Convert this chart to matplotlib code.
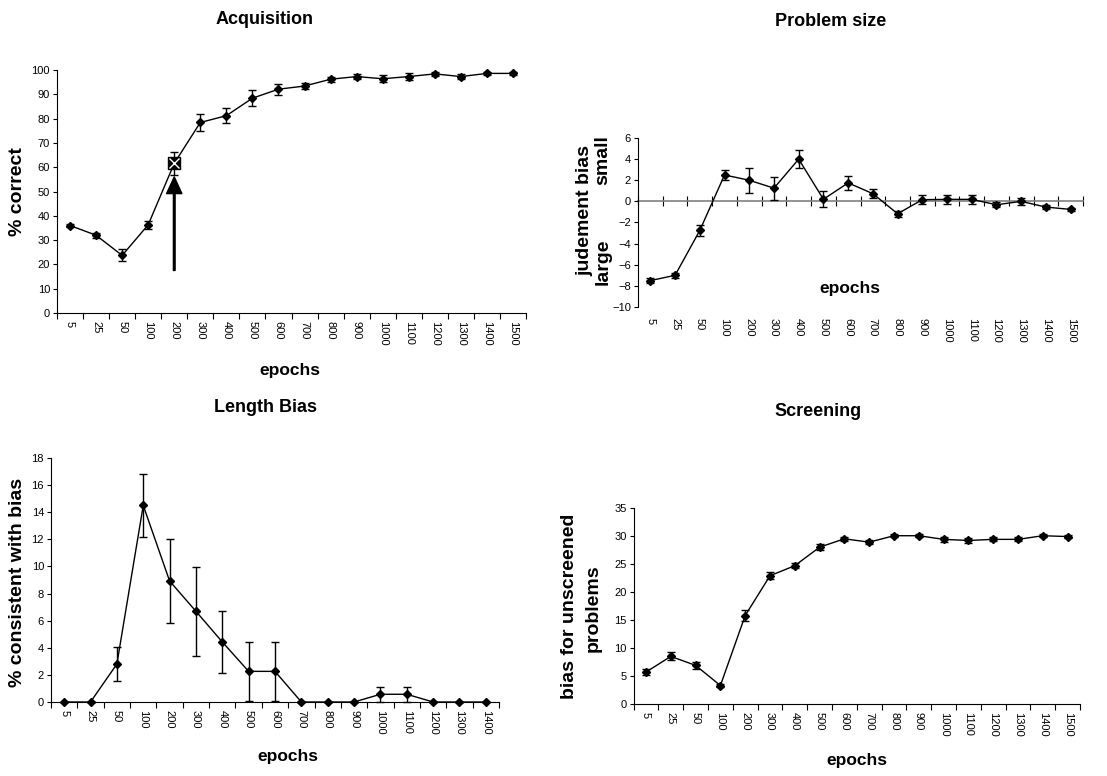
import numpy as np
import matplotlib.pyplot as plt
from matplotlib import font_manager

plt.rcParams['font.family'] = ['Liberation Sans', 'DejaVu Sans']

epochs = ['5', '25', '50', '100', '200', '300', '400', '500', '600', '700',
          '800', '900', '1000', '1100', '1200', '1300', '1400', '1500']
epochs_len = epochs[:17]

acq = [36, 32, 23.7, 36.3, 61.6, 78.4, 81.2, 88.4, 92.1, 93.4,
       96.2, 97.3, 96.4, 97.3, 98.4, 97.3, 98.6, 98.6]
acq_err = [0.8, 1.0, 2.5, 1.7, 4.7, 3.5, 3.0, 3.2, 2.3, 1.2,
           1.0, 1.0, 1.5, 1.5, 0.8, 1.2, 0.7, 0.6]
acq_mark = '200'
arrow_from, arrow_to = 17.5, 56

size_bias = [-7.5, -7.0, -2.75, 2.5, 2.0, 1.25, 4.0, 0.2, 1.75, 0.73,
             -1.17, 0.16, 0.19, 0.19, -0.32, 0.0, -0.54, -0.76]
size_err = [0.2, 0.25, 0.5, 0.5, 1.2, 1.1, 0.85, 0.75, 0.65, 0.4,
            0.3, 0.4, 0.4, 0.45, 0.25, 0.3, 0.15, 0.15]

length_bias = [0, 0, 2.8, 14.5, 8.93, 6.69, 4.43, 2.26, 2.26, 0,
               0, 0, 0.57, 0.57, 0, 0, 0]
length_err = [0, 0, 1.25, 2.35, 3.1, 3.3, 2.3, 2.2, 2.2, 0,
              0, 0, 0.57, 0.57, 0, 0, 0]

screen = [5.7, 8.5, 6.9, 3.3, 15.8, 22.9, 24.7, 28.0, 29.5, 28.9,
          30.05, 30.05, 29.4, 29.2, 29.4, 29.4, 30.05, 29.9]
screen_err = [0.6, 0.7, 0.6, 0.3, 0.9, 0.6, 0.5, 0.5, 0.35, 0.4,
              0.3, 0.3, 0.45, 0.45, 0.35, 0.35, 0.3, 0.3]

# narrow bold face for titles if the system has it
names = {f.name for f in font_manager.fontManager.ttflist}
if 'Liberation Sans Narrow' in names:
    title_font, title_size, ep_size = 'Liberation Sans Narrow', 16, 15
else:
    title_font, title_size, ep_size = 'Liberation Sans', 13, 12.5

W, H = 1107, 776
fig = plt.figure(figsize=(W / 100, H / 100), dpi=100)


def px_axes(l, t, r, b):
    return fig.add_axes([l / W, 1 - b / H, (r - l) / W, (b - t) / H])


def base(ax, labels, values, errs, ylim, ystep):
    x = np.arange(len(labels))
    ax.errorbar(x, values, yerr=errs, color='black', lw=1, marker='D', ms=4.5,
                capsize=3, elinewidth=1, capthick=1, clip_on=False, zorder=3)
    ax.set_xlim(-0.5, len(labels) - 0.5)
    ax.set_ylim(*ylim)
    ax.set_yticks(np.arange(ylim[0], ylim[1] + 0.1, ystep))
    ax.tick_params(axis='y', labelsize=8, length=3, width=0.8, pad=2)
    ax.set_xticks(np.arange(len(labels) + 1) - 0.5)
    ax.set_xticklabels([])
    ax.set_xticks(x, minor=True)
    ax.set_xticklabels(labels, minor=True, rotation=-90, fontsize=8)
    ax.tick_params(axis='x', which='minor', length=0, pad=6)
    ax.tick_params(axis='x', which='major', length=4, width=0.8)
    for s in ['top', 'right']:
        ax.spines[s].set_visible(False)
    for s in ['left', 'bottom']:
        ax.spines[s].set_linewidth(0.8)
    return x


# Acquisition
ax1 = px_axes(57, 70, 526, 313)
x1 = base(ax1, epochs, acq, acq_err, (0, 100), 10)
i = epochs.index(acq_mark)
ax1.plot(x1[i], acq[i], marker='s', ms=9, color='black', zorder=4)
ax1.plot(x1[i], acq[i], marker='x', ms=6.5, mew=1, color='white', zorder=5)
ax1.annotate('', xy=(x1[i], arrow_to), xytext=(x1[i], arrow_from),
             arrowprops=dict(facecolor='black', edgecolor='black', width=1.2,
                             headwidth=11, headlength=12))

# Problem size
ax2 = px_axes(638, 138, 1083, 307)
x2 = base(ax2, epochs, size_bias, size_err, (-10, 6), 2)
ax2.spines['bottom'].set_visible(False)
ax2.tick_params(axis='x', which='major', length=0)
ax2.tick_params(axis='x', which='minor', pad=8)
sec = ax2.secondary_xaxis(0, transform=ax2.transData)
sec.set_xticks(np.arange(len(epochs) + 1) - 0.5)
sec.tick_params(axis='x', direction='inout', length=7, width=0.8,
                labelbottom=False, color='black')
sec.spines['bottom'].set_color('#808080')
sec.spines['bottom'].set_linewidth(1.2)

# Length Bias
ax3 = px_axes(51, 458, 499, 702)
base(ax3, epochs_len, length_bias, length_err, (0, 18), 2)

# Screening
ax4 = px_axes(633.6, 508, 1080, 704)
base(ax4, epochs, screen, screen_err, (0, 35), 5)

# titles and labels
tkw = dict(family=[title_font, 'DejaVu Sans'], fontsize=title_size,
           fontweight='bold', ha='center', va='center')
fig.text(265 / W, 1 - 20 / H, 'Acquisition', **tkw)
fig.text(831 / W, 1 - 22 / H, 'Problem size', **tkw)
fig.text(265 / W, 1 - 408 / H, 'Length Bias', **tkw)
fig.text(818 / W, 1 - 411 / H, 'Screening', **tkw)

ekw = dict(family=[title_font, 'DejaVu Sans'], fontsize=ep_size,
           fontweight='bold', ha='center', va='center')
fig.text(290 / W, 1 - 370 / H, 'epochs', **ekw)
fig.text(850 / W, 1 - 288 / H, 'epochs', **ekw)
fig.text(288 / W, 1 - 757 / H, 'epochs', **ekw)
fig.text(857 / W, 1 - 760 / H, 'epochs', **ekw)

ykw = dict(fontsize=14, fontweight='bold', ha='center', va='center', rotation=90)
fig.text(18 / W, 1 - 192 / H, '% correct', **ykw)
fig.text(18 / W, 1 - 582 / H, '% consistent with bias', **ykw)
fig.text(585 / W, 1 - 210 / H, 'judement bias', **ykw)
fig.text(603 / W, 1 - 262 / H, 'large', **ykw)
fig.text(603 / W, 1 - 160 / H, 'small', **ykw)
fig.text(570 / W, 1 - 606 / H, 'bias for unscreened', **ykw)
fig.text(593 / W, 1 - 608 / H, 'problems', **ykw)

fig.savefig('out.png', dpi=100)
